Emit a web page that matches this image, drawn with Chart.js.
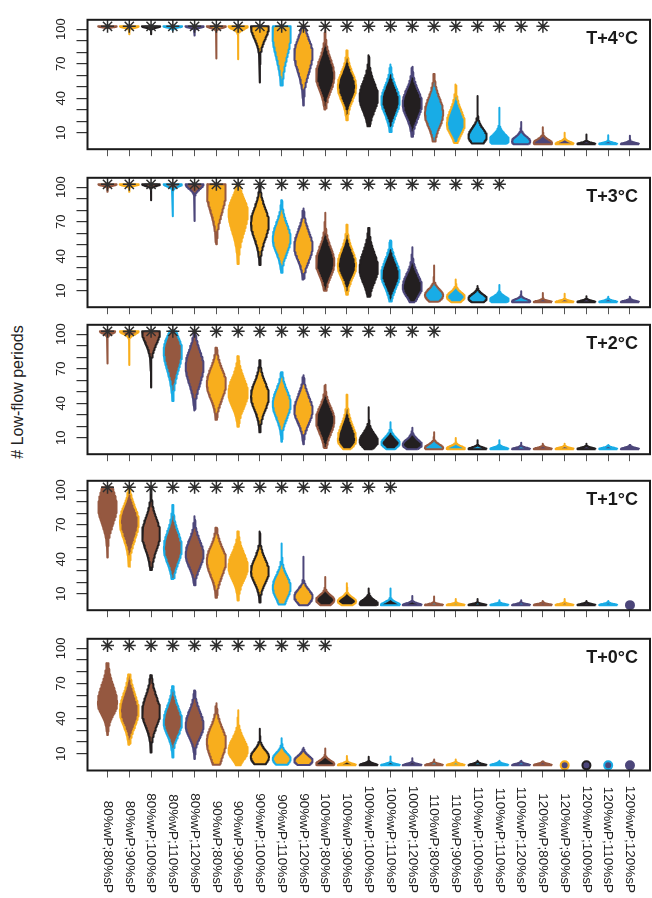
<!DOCTYPE html>
<html><head><meta charset="utf-8">
<script src="https://cdn.jsdelivr.net/npm/chart.js@4.4.0/dist/chart.umd.min.js"></script>
<style>
html,body{margin:0;padding:0;background:#fff;}
#wrap{position:relative;width:652px;height:898px;overflow:hidden;background:#fff;}
canvas{position:absolute;left:0;}
#ytitle{position:absolute;left:18px;top:392px;transform:translate(-50%,-50%) rotate(-90deg);font:16px "Liberation Sans",Arial,sans-serif;color:#222;white-space:nowrap;}
</style></head><body><div id="wrap"><div id="ytitle"># Low-flow periods</div></div>
<script>
// ---------- DATA ----------
const categories = ["80%wP;80%sP","80%wP;90%sP","80%wP;100%sP","80%wP;110%sP","80%wP;120%sP",
  "90%wP;80%sP","90%wP;90%sP","90%wP;100%sP","90%wP;110%sP","90%wP;120%sP",
  "100%wP;80%sP","100%wP;90%sP","100%wP;100%sP","100%wP;110%sP","100%wP;120%sP",
  "110%wP;80%sP","110%wP;90%sP","110%wP;100%sP","110%wP;110%sP","110%wP;120%sP",
  "120%wP;80%sP","120%wP;90%sP","120%wP;100%sP","120%wP;110%sP","120%wP;120%sP"];
const panelLabels = ["T+4°C","T+3°C","T+2°C","T+1°C","T+0°C"];
const yTickValues = [10,20,30,40,50,60,70,80,90,100];
const yTickLabels = [10,40,70,100];
const starCounts = [21,19,16,14,11];
const starLevel = 102.5;
// violin summaries per category: [min, mode, max, half-width (category units), spread below mode, spread above mode]
// min === max means a single repeated value (drawn as a dot)
const violinsT4 = [
 [101,102.5,102.5,0.43,0.8,1],[95.6,102.5,102.5,0.43,1.2,1],[95.6,102.5,102.5,0.42,1.2,1],[99,102.5,102.5,0.43,1,1],[94.5,102.5,102.5,0.42,1.2,1],
 [74.6,102.5,102.5,0.44,1.5,1],[73.8,102.5,102.5,0.44,2.5,1],[53.6,102.5,102.5,0.41,11,1],[51,96,102.5,0.42,20,20],[33.7,78.7,101,0.42,16,12.6],
 [30.2,59.6,99.2,0.42,13,14],[20.9,50.1,81.5,0.42,12,12],[15.5,40.6,77.4,0.42,12,13],[10.6,37.8,69.2,0.42,12,12],[6.5,35.1,67.3,0.44,12,12],
 [2.4,26.9,61,0.42,12,13],[1,17.4,52,0.41,9,12],[0.5,6.5,41.9,0.42,6,7],[0.3,3.7,31.6,0.43,5,5],[0,2.4,19.3,0.42,4,4],
 [0,1,14.6,0.42,3,3],[0,0,10,0.42,1,2],[0,0,8.4,0.42,1,1.2],[0,0,7.8,0.42,1,1.2],[0,0,7.3,0.42,1,1.2]];
const violinsT3 = [
 [96,102.5,102.5,0.42,1.2,1],[96,102.5,102.5,0.44,1.2,1],[88.6,102.5,102.5,0.41,1.5,1],[74.7,102.5,102.5,0.42,2,1],[70.6,102.5,102.5,0.41,4,1],
 [50.4,95,102.5,0.43,17,20],[33.2,78.2,101.4,0.44,17,12],[32.4,68.7,101.4,0.41,14,13],[25.6,55,88.6,0.41,12,13],[19.6,48.2,81.5,0.42,12,13],
 [10,34.6,77.7,0.42,12,13],[6.5,31.9,67.3,0.42,11,13],[4.6,29.1,64.6,0.42,12,14],[0.5,23.7,53.7,0.42,11,12],[0,12.8,47.7,0.44,8,11],
 [0.3,6,31.9,0.42,5,5],[0,4.6,19.6,0.41,4,4],[0,3.2,14.1,0.42,3.5,3.5],[0,2,15,0.43,3,3],[0,0.5,9.5,0.42,2,2],
 [0,0,7.9,0.42,1,1.2],[0,0,7.3,0.42,1,1.2],[0,0,5.1,0.42,1,1.2],[0,0,4.6,0.42,1,1.2],[0,0,4.6,0.42,1,1.2]];
const violinsT2 = [
 [74.6,102.5,102.5,0.35,2,1],[73.3,102.5,102.5,0.43,2.5,1],[53.6,102.5,102.5,0.41,11,1],[42,85.5,102.5,0.42,17,12],[33.7,72,102.5,0.41,15,13.5],
 [25.5,56.9,88.3,0.44,13,13],[19.5,48.7,80.9,0.44,12,13],[14.6,46,77.4,0.41,12,12],[6.5,39.2,67,0.41,12,12],[4.3,33.7,64.3,0.42,11,12],
 [1,25.5,56.1,0.42,12,11],[0,7.8,47.4,0.42,6,13],[0,6.5,36.5,0.42,5,7],[0,5,23.4,0.42,4,5],[0,3.7,18.7,0.44,3.5,4.5],
 [0,1,14.6,0.42,2,3],[0,0.5,9.7,0.42,1.5,2],[0,0,7.8,0.42,1,1.5],[0,0,7.8,0.42,1,1.5],[0,0,5.6,0.42,1,1.2],
 [0,0,4.6,0.42,1,1.2],[0,0,4.6,0.42,1,1.2],[0,0,4.6,0.42,1,1.2],[0,0,3.7,0.42,1,1.2],[0,0,3.7,0.42,1,1.2]];
const violinsT1 = [
 [41.4,85,102.5,0.42,14,16],[33.2,72.7,102.5,0.43,15,12.8],[30.5,61.8,102.5,0.41,14,13.6],[22.8,49.5,87.2,0.41,13,14],[17.4,44,77.4,0.41,11,12],
 [6.5,38.6,67.3,0.44,13,12],[4,33.2,64,0.44,11,12],[2.4,29.1,64,0.41,10,11],[0.5,15.5,53.6,0.41,10,10],[0,7.3,42.2,0.42,6,6],
 [0,4.5,24.5,0.42,4,4],[0,3.2,19,0.42,3,3.5],[0,1,14.4,0.42,2,3.5],[0,0,14.4,0.44,1,2.5],[0,0,8,0.44,1,1.5],
 [0,0,7.5,0.42,1,1],[0,0,5.4,0.42,1,1],[0,0,5.4,0.42,1,1],[0,0,4.3,0.42,1,1],[0,0,4.3,0.42,1,1],
 [0,0,3.5,0.42,1,1],[0,0,5.4,0.42,1,1],[0,0,3.5,0.42,1,1],[0,0,3.5,0.42,1,1],[0,0,0,0,0,0]];
const violinsT0 = [
 [25.9,53.1,87.2,0.44,10,15],[17.7,46.3,77.7,0.43,12.5,14.6],[10.9,45,77.1,0.41,12,14],[6.8,36.8,67.6,0.42,11,13],[5.4,34,64,0.41,10,12],
 [0.5,20.4,53.1,0.44,14,12],[0,12.2,47.1,0.44,7,10],[1,7,31.3,0.42,6,6],[0.5,5.4,23.1,0.41,5,5],[0.3,4,15,0.42,4,4],
 [0,1,14.4,0.42,2,3],[0,0,8.1,0.42,1,1.5],[0,0,7.3,0.42,1,1.5],[0,0,7.6,0.44,1,1.2],[0,0,6,0.44,1,1.2],
 [0,0,4.9,0.42,1,1.2],[0,0,4.9,0.42,1,1.2],[0,0,4,0.42,1,1.2],[0,0,4,0.42,1,1.2],[0,0,4,0.42,1,1.2],
 [0,0,3.2,0.42,1,1.2],[0,0,0,0,0,0],[0,0,0,0,0,0],[0,0,0,0,0,0],[0,0,0,0,0,0]];
const panelViolins = [violinsT4, violinsT3, violinsT2, violinsT1, violinsT0];
// fill colour follows wP level, outline colour follows sP level (80,90,100,110,120 %)
const levelColors = ['#955840','#F8AE1D','#231F20','#18ACE6','#4C467A'];

// ---------- LAYOUT ----------
const W = 652, H = 898;
const panelTop = [14, 172, 319, 475, 633];
const panelH = 137.5;
const yMin = -4.4, yMax = 108.2;
const xMin = -0.92, xMax = 24.92;
const FONT = '"Liberation Sans", Arial, Helvetica, sans-serif';

function violinOutline(idx, s) {
  const [lo, mode, hi, w, sdDn, sdUp] = s;
  const half = v => {
    const sd = v < mode ? sdDn : sdUp;
    return w * Math.exp(-((v - mode) * (v - mode)) / (2 * sd * sd));
  };
  const vs = new Set();
  const N = 60;
  for (let k = 0; k <= N; k++) vs.add(lo + (hi - lo) * k / N);
  for (let k = 1; k <= 20; k++) {
    const a = mode - sdDn * k / 5, b = mode + sdUp * k / 5;
    if (a > lo) vs.add(a);
    if (b < hi) vs.add(b);
  }
  vs.add(mode);
  const arr = [...vs].sort((a, b) => a - b);
  const right = arr.map(v => ({x: idx + half(v), y: v}));
  const left = arr.slice().reverse().map(v => ({x: idx - half(v), y: v}));
  return right.concat(left, [right[0]]);
}

const panelDecor = {
  id: 'panelDecor',
  afterDatasetsDraw(chart, args, opts) {
    const {ctx, chartArea: a} = chart;
    ctx.save();
    ctx.strokeStyle = '#1a1a1a';
    ctx.lineWidth = 2;
    ctx.strokeRect(a.left, a.top, a.right - a.left, a.bottom - a.top);
    ctx.fillStyle = '#1a1a1a';
    ctx.font = 'bold 18px ' + FONT;
    ctx.textAlign = 'right';
    ctx.textBaseline = 'alphabetic';
    ctx.fillText(opts.label, a.right - 12, a.top + 24.5);
    ctx.restore();
  },
  afterDraw(chart, args, opts) {
    if (!opts.showCats) return;
    const ctx = chart.ctx, xs = chart.scales.x;
    ctx.save();
    ctx.font = '13.5px ' + FONT;
    ctx.fillStyle = '#222';
    ctx.textAlign = 'right';
    ctx.textBaseline = 'middle';
    categories.forEach((c, i) => {
      ctx.save();
      ctx.translate(xs.getPixelForValue(i), opts.labelBottom);
      ctx.rotate(Math.PI / 2);
      ctx.fillText(c, 0, 0);
      ctx.restore();
    });
    ctx.restore();
  }
};

const wrap = document.getElementById('wrap');
panelViolins.forEach((viol, k) => {
  const padTop = 6;
  const isLast = k === panelViolins.length - 1;
  const canvasTop = panelTop[k] - padTop;
  const xAxisH = isLast ? (H - (panelTop[k] + panelH)) : 9;
  const canvasH = padTop + panelH + xAxisH;
  const cv = document.createElement('canvas');
  cv.width = W; cv.height = Math.ceil(canvasH);
  cv.style.top = canvasTop + 'px';
  cv.style.width = W + 'px'; cv.style.height = Math.ceil(canvasH) + 'px';
  wrap.appendChild(cv);

  const datasets = [];
  datasets.push({
    type: 'scatter',
    data: Array.from({length: starCounts[k]}, (_, i) => ({x: i, y: starLevel})),
    pointStyle: 'star', pointRadius: 6.5, borderColor: '#2e2e2e', borderWidth: 1.5,
    backgroundColor: '#2e2e2e', order: 0
  });
  const dots = [], dotFill = [], dotBorder = [];
  viol.forEach((s, i) => {
    const fillC = levelColors[Math.floor(i / 5)], lineC = levelColors[i % 5];
    if (s[0] === s[2]) {
      dots.push({x: i, y: s[0]}); dotFill.push(fillC); dotBorder.push(lineC);
      return;
    }
    datasets.push({
      type: 'line',
      data: violinOutline(i, s),
      borderColor: lineC, backgroundColor: fillC,
      borderWidth: 2, borderJoinStyle: 'round', pointRadius: 0, tension: 0,
      fill: 'shape', order: 2
    });
  });
  if (dots.length) datasets.push({
    type: 'scatter', data: dots, pointRadius: 4, borderWidth: 2,
    backgroundColor: dotFill, borderColor: dotBorder, order: 1
  });

  new Chart(cv, {
    type: 'line',
    data: {datasets},
    options: {
      responsive: false, animation: false, devicePixelRatio: 1,
      layout: {autoPadding: false, padding: {top: padTop, right: 2, left: 0, bottom: 0}},
      plugins: {
        legend: {display: false}, tooltip: {enabled: false},
        panelDecor: {label: panelLabels[k], showCats: isLast, labelBottom: 893 - canvasTop}
      },
      scales: {
        x: {
          type: 'linear', min: xMin, max: xMax,
          afterBuildTicks: s => { s.ticks = categories.map((c, i) => ({value: i})); },
          afterFit: s => { s.height = xAxisH; },
          ticks: {display: false, autoSkip: false},
          grid: {drawOnChartArea: false, tickLength: 7, color: '#555', lineWidth: 1},
          border: {display: false}
        },
        y: {
          type: 'linear', min: yMin, max: yMax,
          afterBuildTicks: s => { s.ticks = yTickValues.map(v => ({value: v})); },
          afterFit: s => { s.width = 87.5; },
          ticks: {
            autoSkip: false,
            callback: v => yTickLabels.includes(v) ? String(v) : '',
            minRotation: 90, maxRotation: 90, padding: 4, crossAlign: 'center',
            font: {size: 13, family: FONT}, color: '#222'
          },
          grid: {drawOnChartArea: false, tickLength: 11, color: '#333', lineWidth: 1.2},
          border: {display: false}
        }
      }
    },
    plugins: [panelDecor]
  });
});
</script></body></html>
